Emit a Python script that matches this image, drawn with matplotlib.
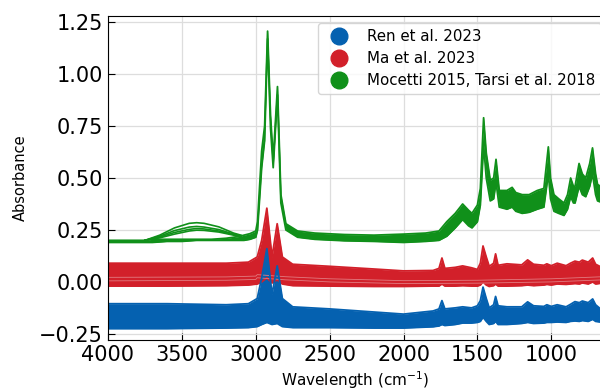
"""
FTIR reference spectra of three literature datasets, drawn as
stacked bands of absorbance against wavenumber.

Output:
    - out.png
"""

import matplotlib.pyplot as plt
from matplotlib.lines import Line2D

# ---- data ----
# shared wavenumber grid for the Ren / Ma bands
wn_rb = [4000, 3600, 3200, 3050, 2990, 2960, 2925, 2890, 2855, 2820, 2750,
         2500, 2200, 2000, 1800, 1760, 1740, 1720, 1650, 1600, 1540, 1500,
         1480, 1462, 1440, 1420, 1390, 1377, 1360, 1300, 1200, 1160, 1120,
         1050, 1030, 1000, 960, 900, 870, 840, 810, 790, 750, 720, 700, 650]

blue_top = [-0.105, -0.105, -0.11, -0.105, -0.08, 0.02, 0.16, -0.06, 0.077,
            -0.08, -0.12, -0.13, -0.145, -0.155, -0.14, -0.13, -0.09, -0.13,
            -0.125, -0.12, -0.125, -0.115, -0.09, -0.025, -0.08, -0.125,
            -0.11, -0.07, -0.115, -0.12, -0.12, -0.096, -0.115, -0.118,
            -0.11, -0.118, -0.11, -0.12, -0.108, -0.095, -0.1, -0.092, -0.1,
            -0.082, -0.11, -0.14]
blue_bot = [-0.225, -0.225, -0.222, -0.22, -0.215, -0.205, -0.195, -0.205,
            -0.2, -0.215, -0.22, -0.22, -0.222, -0.222, -0.216, -0.212,
            -0.205, -0.21, -0.205, -0.198, -0.198, -0.195, -0.19, -0.17,
            -0.19, -0.205, -0.2, -0.19, -0.205, -0.205, -0.2, -0.195, -0.2,
            -0.198, -0.195, -0.195, -0.193, -0.195, -0.19, -0.188, -0.19,
            -0.186, -0.19, -0.18, -0.19, -0.195]

red_top = [0.09, 0.09, 0.09, 0.095, 0.12, 0.2, 0.355, 0.12, 0.28, 0.12,
           0.085, 0.075, 0.062, 0.053, 0.055, 0.065, 0.115, 0.065, 0.07,
           0.077, 0.068, 0.06, 0.09, 0.173, 0.12, 0.075, 0.09, 0.135, 0.08,
           0.087, 0.082, 0.106, 0.085, 0.08, 0.087, 0.078, 0.09, 0.078,
           0.09, 0.1, 0.095, 0.105, 0.095, 0.115, 0.085, 0.067]
red_bot = [-0.02, -0.02, -0.018, -0.015, -0.01, 0.0, 0.02, -0.005, 0.01,
           -0.01, -0.018, -0.02, -0.022, -0.022, -0.02, -0.02, -0.01, -0.02,
           -0.02, -0.018, -0.02, -0.02, -0.015, 0.0, -0.015, -0.022, -0.018,
           -0.01, -0.02, -0.02, -0.018, -0.015, -0.018, -0.015, -0.012,
           -0.015, -0.01, -0.012, -0.01, -0.008, -0.01, -0.005, -0.01, 0.0,
           -0.01, -0.005]

# pale single spectra showing through the Ma band
wn_pale = [4000, 3200, 3000, 2990, 2800, 2500, 2000, 1500, 1000, 650]
red_pale = [
    [0.005, 0.008, 0.012, 0.02, 0.01, 0.0, -0.008, -0.006, 0.0, 0.01],
    [0.022, 0.024, 0.028, 0.035, 0.025, 0.015, 0.006, 0.008, 0.015, 0.025],
]

# Mocetti / Tarsi band
wn_g = [4000, 3750, 3700, 3600, 3500, 3400, 3300, 3200, 3120, 3080, 3040,
        3000, 2988, 2960, 2940, 2920, 2900, 2882, 2853, 2830, 2796, 2717,
        2600, 2400, 2200, 2000, 1850, 1760, 1707, 1650, 1600, 1560, 1537,
        1500, 1480, 1458, 1440, 1413, 1390, 1374, 1352, 1300, 1265, 1240,
        1197, 1150, 1095, 1050, 1035, 1020, 1005, 982, 950, 914, 890, 869,
        850, 839, 812, 790, 767, 740, 721, 700, 687, 650]
green_top = [0.2, 0.2, 0.205, 0.205, 0.205, 0.205, 0.205, 0.21, 0.218, 0.225,
             0.232, 0.245, 0.29, 0.63, 0.75, 1.207, 0.8, 0.59, 0.94, 0.42,
             0.28, 0.245, 0.235, 0.228, 0.225, 0.23, 0.235, 0.245, 0.29,
             0.33, 0.375, 0.345, 0.33, 0.37, 0.45, 0.79, 0.62, 0.49, 0.5,
             0.59, 0.44, 0.44, 0.455, 0.43, 0.42, 0.42, 0.44, 0.45, 0.55,
             0.65, 0.5, 0.42, 0.4, 0.38, 0.42, 0.5, 0.46, 0.46, 0.57, 0.52,
             0.5, 0.57, 0.645, 0.52, 0.47, 0.45]
green_bot = [0.19, 0.19, 0.19, 0.195, 0.195, 0.2, 0.2, 0.2, 0.2, 0.2, 0.205,
             0.215, 0.25, 0.55, 0.68, 1.17, 0.74, 0.55, 0.9, 0.38, 0.25,
             0.215, 0.205, 0.198, 0.195, 0.19, 0.195, 0.2, 0.22, 0.26, 0.3,
             0.27, 0.26, 0.29, 0.37, 0.66, 0.5, 0.39, 0.4, 0.48, 0.36, 0.35,
             0.36, 0.34, 0.33, 0.335, 0.35, 0.36, 0.44, 0.52, 0.4, 0.34,
             0.33, 0.32, 0.35, 0.41, 0.38, 0.38, 0.46, 0.42, 0.41, 0.46,
             0.52, 0.42, 0.39, 0.38]

# separate O-H bump lines of the green set
wn_bump = [3750, 3650, 3550, 3450, 3400, 3350, 3250, 3150, 3100]
bumps = [
    [0.2, 0.225, 0.26, 0.282, 0.285, 0.282, 0.265, 0.235, 0.225],
    [0.2, 0.22, 0.247, 0.264, 0.267, 0.264, 0.252, 0.23, 0.222],
    [0.2, 0.216, 0.238, 0.253, 0.257, 0.255, 0.245, 0.228, 0.22],
    [0.2, 0.212, 0.23, 0.245, 0.249, 0.248, 0.24, 0.225, 0.218],
]

labels = ["Ren et al. 2023", "Ma et al. 2023", "Mocetti 2015, Tarsi et al. 2018"]
colors = ["#0561b0", "#d2202a", "#10901a"]


def draw_band(ax, wn, lo, hi, color):
    ax.fill_between(wn, lo, hi, color=color, lw=0)
    ax.plot(wn, lo, color=color, lw=1.3)
    ax.plot(wn, hi, color=color, lw=1.3)


def main() -> None:
    fig = plt.figure(figsize=(6, 3.9), dpi=100)
    ax = fig.add_axes([0.18, 0.128, 0.825, 0.831])

    # green underneath, blue on top (as in the reference)
    draw_band(ax, wn_g, green_bot, green_top, colors[2])
    for b in bumps:
        ax.plot(wn_bump, b, color=colors[2], lw=1.2)
    draw_band(ax, wn_rb, red_bot, red_top, colors[1])
    for p in red_pale:
        ax.plot(wn_pale, p, color="#e27a80", lw=0.6)
    draw_band(ax, wn_rb, blue_bot, blue_top, colors[0])

    ax.set_xlim(4000, 650)
    ax.set_ylim(-0.28, 1.28)
    ax.set_xticks([4000, 3500, 3000, 2500, 2000, 1500, 1000])
    ax.set_yticks([-0.25, 0, 0.25, 0.5, 0.75, 1.0, 1.25])
    ax.tick_params(direction="in", labelsize=15, length=5)
    ax.grid(True, color="#dddddd", lw=0.9)
    ax.set_axisbelow(True)
    ax.set_xlabel("Wavelength (cm$^{-1}$)", fontsize=11, labelpad=3)
    ax.set_ylabel("Absorbance", fontsize=10.5, labelpad=8)

    handles = [Line2D([], [], marker="o", ls="none", color=c, markersize=12)
               for c in colors]
    ax.legend(handles, labels, loc="upper right", fontsize=10.8,
              borderaxespad=0.5, handletextpad=0.9, labelspacing=0.45,
              bbox_to_anchor=(1.012, 1.0))

    fig.savefig("out.png", dpi=100)
    plt.close(fig)


if __name__ == "__main__":
    main()
